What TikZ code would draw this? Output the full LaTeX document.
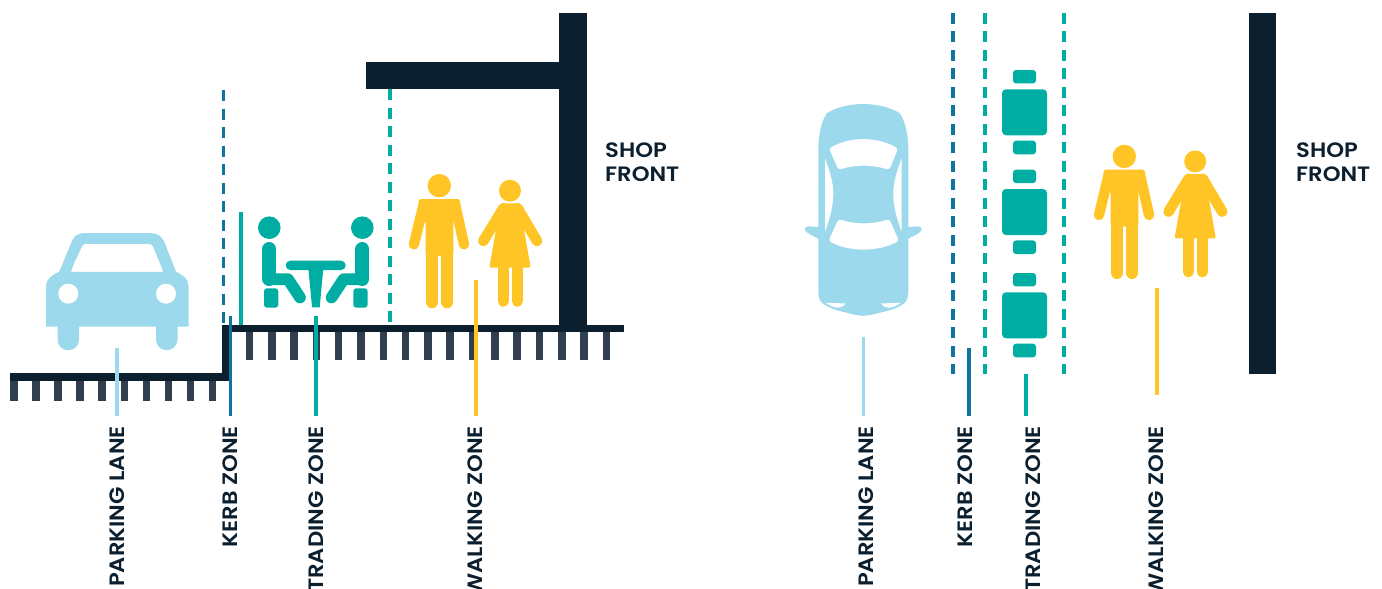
\documentclass[tikz,border=0pt]{standalone}
\usepackage{fontspec}
\setmainfont[FakeStretch=1.09]{Poppins SemiBold}
\definecolor{navy}  {RGB}{12,31,46}
\definecolor{tick}  {RGB}{48,62,78}
\definecolor{sky}   {RGB}{156,217,236}
\definecolor{kerb}  {RGB}{15,117,160}
\definecolor{trade} {RGB}{0,173,162}
\definecolor{walk}  {RGB}{255,196,37}
\tikzset{
  zonelabel/.style={rotate=90, anchor=east, inner sep=0pt, text=navy,
                    font=\fontsize{20.8}{24}\selectfont},
  shoplabel/.style={anchor=west, inner sep=0pt, text=navy, align=left,
                    font=\fontsize{20.8}{24}\selectfont},
  leader/.style={line width=3.6pt},
  zonedash/.style={line width=3.6pt, dash pattern=on 11pt off 7.5pt},
  limb/.style={line cap=round, line join=round},
  man/.pic={
    \fill[walk] (439.3,185.7) circle (11.7);
    \fill[walk, rounded corners=2.5] (418.5,199) -- (460,199) -- (460,215) -- (453.3,221)
      -- (453.3,256) -- (425.7,256) -- (425.7,221) -- (418.5,215) -- cycle;
    \draw[walk, limb, line width=10.4pt] (423.7,204) -- (414,244.3);
    \draw[walk, limb, line width=10.4pt] (455,204) -- (464,244.3);
    \draw[walk, limb, line width=12.7pt] (432,254) -- (432,302);
    \draw[walk, limb, line width=12.7pt] (447,254) -- (447,302);
  },
  woman/.pic={
    \fill[walk] (510,190.7) circle (11);
    \fill[walk, rounded corners=1.5] (503,203.3) -- (518,203.3) -- (523.3,225.7)
      -- (530.7,267.7) -- (489.3,267.7) -- (496.7,225.7) -- cycle;
    \draw[walk, limb, line width=10.6pt] (503.5,208) -- (483.3,241);
    \draw[walk, limb, line width=10.6pt] (517.5,208) -- (537,241);
    \draw[walk, limb, line width=11pt] (503.2,266) -- (503.2,301.2);
    \draw[walk, limb, line width=11pt] (517.2,266) -- (517.2,301.2);
  },
  seated/.pic={
    \fill[trade] (269.3,227.7) circle (11.3);
    \draw[trade, limb, line width=14pt] (269.2,249) -- (269.2,279);
    \draw[trade, limb, line width=11.7pt] (270,279.2) -- (288,279.2) -- (300,297.5);
    \fill[trade, rounded corners=3] (264,288.3) rectangle (278.3,307.7);
  },
  carhalf/.pic={
    \fill[sky] (864,104) .. controls (848,104) and (835,108) .. (826.7,113.3)
      .. controls (820,124) and (818.3,138) .. (818.3,150) -- (818.3,293)
      .. controls (818.3,300) and (822,304) .. (826.7,306)
      .. controls (833,310) and (840,311) .. (846.7,312.7)
      .. controls (853,314.5) and (858,315.7) .. (864,315.7) -- cycle;
    \fill[sky] (819,227) -- (808,226.3) .. controls (805,226.3) and (804.5,229) .. (805,230)
      .. controls (806,233) and (813,236) .. (819,239) -- cycle;
    \fill[white] (825,158.3) .. controls (830,172) and (833.3,183) .. (833.3,193.3)
      .. controls (833.3,206) and (830,218) .. (825,231.7) -- cycle;
    \fill[white] (825.5,302.7) -- (845.7,303.5) .. controls (842,309) and (835,309.5) .. (825.5,302.7) -- cycle;
  },
}
\begin{document}
\begin{tikzpicture}[x=1pt, y=-1pt]
  \clip (0,0) rectangle (1382,589);

  % section view
  \fill[navy] (559.3,13) rectangle (587,325);
  \fill[navy] (366,62) rectangle (560,89);
  \fill[navy] (10,373) rectangle (229,381);
  \fill[navy] (221.7,325) rectangle (229,381);
  \fill[navy] (221.7,325) rectangle (624,332.4);
  \foreach \i in {0,...,9}
    \fill[tick] (10+22.1*\i,381) rectangle ++(7.5,20);
  \foreach \i in {0,...,16}
    \fill[tick] (245.7+22.31*\i,332.4) rectangle ++(7.5,27.6);

  \draw[zonedash, kerb] (223.4,90) -- (223.4,325);
  \draw[zonedash, trade] (390,89) -- (390,325);
  \draw[leader, trade] (241,212) -- (241,325);

  % car, front
  \fill[sky] (46,326.7) -- (46,286) .. controls (46,279) and (52,275) .. (59.3,271.7)
    -- (72,241) .. controls (74,236) and (78,233) .. (85,233) -- (150,233)
    .. controls (157,233) and (161,236) .. (164,241) -- (176,271.7)
    .. controls (183,275) and (188.5,279) .. (188.5,286) -- (188.5,326.7) -- cycle;
  \fill[sky] (57.5,326) -- (57.5,339.5) arc[start angle=180, end angle=0, radius=10.75] -- (79,326) -- cycle;
  \fill[sky] (156,326) -- (156,339.5) arc[start angle=180, end angle=0, radius=10.75] -- (177.5,326) -- cycle;
  \fill[white, rounded corners=3] (71,271.7) -- (83,244) -- (152,244) -- (163,271.7) -- cycle;
  \fill[white] (71,271.7) -- (76,259) -- (158,259) -- (163,271.7) -- cycle;
  \fill[white] (68.3,293.7) circle (10);
  \fill[white] (166,293.7) circle (10);

  % table and chairs
  \pic at (0,0) {seated};
  \pic[xscale=-1] at (631.6,0) {seated};
  \fill[trade, rounded corners=4.6] (285.7,260.7) rectangle (345.7,270);
  \fill[trade] (308.3,268) -- (323.3,268) -- (319.7,307.3) -- (312.1,307.3) -- cycle;

  % people
  \pic at (0,0) {man};
  \pic at (0,0) {woman};
  \pic at (685,-29.3) {man};
  \pic at (685.2,-29.3) {woman};

  % plan view
  \fill[navy] (1248.5,13) rectangle (1276,374);
  \foreach \dx/\cc in {952.7/kerb,985/trade,1063.7/trade}
    \draw[zonedash, \cc] (\dx,12.7) -- (\dx,373.5);
  \foreach \ty in {89.3,189,292.3} {
    \fill[trade, rounded corners=4] (1002,\ty) rectangle ++(45,46);
    \fill[trade, rounded corners=3] (1013,\ty-19.3) rectangle ++(23,13.4);
    \fill[trade, rounded corners=3] (1013,\ty+51.4) rectangle ++(23,13.6);
  }

  % car, from above
  \pic at (0,0) {carhalf};
  \pic[xscale=-1] at (1726.6,0) {carhalf};
  \fill[white, rounded corners=3] (829,148.5) .. controls (850,136.5) and (877,136.5) .. (898,148.5)
    -- (889.3,170) .. controls (872,164.5) and (855,164.5) .. (838.5,170) -- cycle;
  \fill[white, rounded corners=3] (838.5,219) .. controls (855,224.5) and (872,224.5) .. (889.3,219)
    -- (899,241) .. controls (877,252) and (850,252) .. (828.5,241) -- cycle;

  % zone labels and leaders
  \foreach \nm/\tx/\lx/\ty/\ey/\cc/\txt in {
      parkA/117.5/116.8/348/416/sky/PARKING LANE,
      kerbA/230/230.6/316/416/kerb/KERB ZONE,
      tradeA/316/315.7/316/416/trade/TRADING ZONE,
      walkA/475.5/475.7/280/416/walk/WALKING ZONE,
      parkB/866/863.5/337/416/sky/PARKING LANE,
      kerbB/965.5/968.7/348/416/kerb/KERB ZONE,
      tradeB/1033.3/1026/374/416/trade/TRADING ZONE,
      walkB/1156.3/1157/288/395/walk/WALKING ZONE} {
    \node[zonelabel] (\nm) at (\tx,426) {\txt};
    \coordinate (\nm top) at (\lx,\ty);
    \coordinate (\nm end) at (\lx,\ey);
    \draw[leader, \cc] (\nm top) -- (\nm end);
  }

  \node[shoplabel] (shopA) at (605,162) {SHOP\\FRONT};
  \node[shoplabel] (shopB) at (1296,162) {SHOP\\FRONT};
\end{tikzpicture}
\end{document}
